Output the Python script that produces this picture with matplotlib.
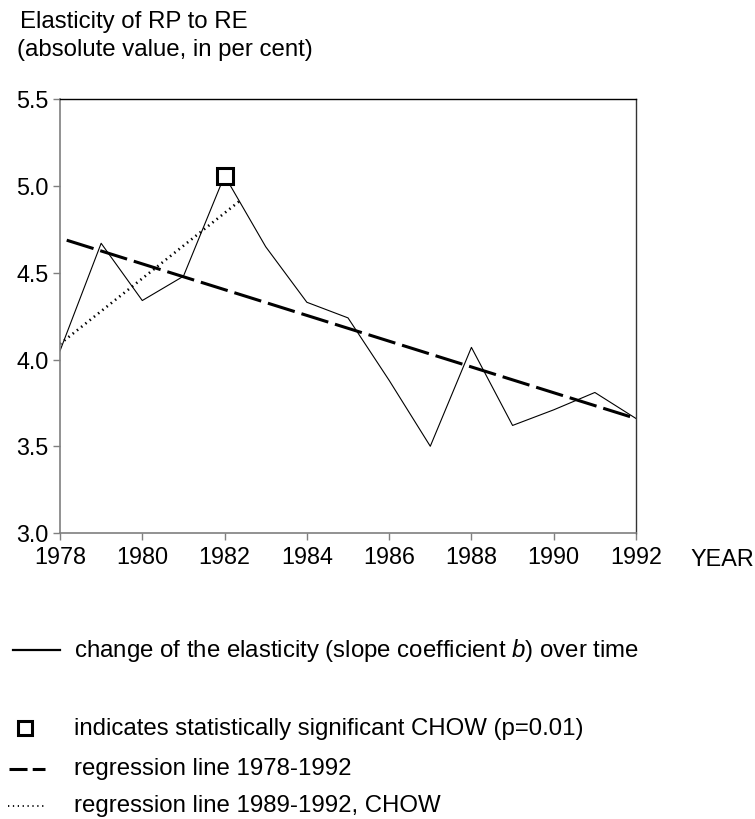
import matplotlib
matplotlib.use('Agg')
import matplotlib.pyplot as plt
from matplotlib.lines import Line2D

plt.rcParams['font.family'] = ['Liberation Sans', 'DejaVu Sans']
plt.rcParams['mathtext.fontset'] = 'custom'
plt.rcParams['mathtext.rm'] = 'Liberation Sans'
plt.rcParams['mathtext.it'] = 'Liberation Sans:italic'

# data
years = [1978, 1979, 1980, 1981, 1982, 1983, 1984, 1985,
         1986, 1987, 1988, 1989, 1990, 1991, 1992]
elasticity = [4.05, 4.67, 4.34, 4.48, 5.06, 4.65, 4.33, 4.24,
              3.88, 3.50, 4.07, 3.62, 3.71, 3.81, 3.66]
reg_years = [1978, 1992]
reg_values = [4.70, 3.66]
chow_years = [1978, 1982.4]
chow_values = [4.09, 4.92]
sig_years = [1982]
sig_values = [5.06]
xticks = list(range(1978, 1993, 2))
yticks = [3.0, 3.5, 4.0, 4.5, 5.0, 5.5]

W, H = 755, 819
fs = 17.3   # free text
tfs = 16.8  # tick labels
fig = plt.figure(figsize=(W / 100, H / 100), dpi=100)
ax = fig.add_axes([60 / W, 1 - 533 / H, 576 / W, 433.7 / H])

ax.plot(years, elasticity, color='black', lw=0.8)
ax.plot(reg_years, reg_values, color='black', lw=2.2,
        linestyle=(9.2, (9.2, 2.3)))
ax.plot(chow_years, chow_values, color='black', lw=1.9,
        linestyle=(0, (0.55, 1.5)))
ax.plot(sig_years, sig_values, ls='none', marker='s', ms=11,
        mfc='white', mec='black', mew=2.2)

ax.set_xlim(1978, 1992)
ax.set_ylim(3.0, 5.5)
ax.set_xticks(xticks)
ax.set_yticks(yticks)
ax.set_yticklabels(['%.1f' % v for v in yticks])
ax.tick_params(direction='out', length=5.2, width=1, color='#7f7f7f',
               labelsize=tfs, labelcolor='black')
ax.tick_params(axis='y', pad=3)
ax.tick_params(axis='x', pad=4.5)
for side in ['left', 'bottom']:
    ax.spines[side].set_color('#7f7f7f')
    ax.spines[side].set_linewidth(1.2)
ax.spines['top'].set_color('black')
ax.spines['right'].set_color('#333333')
ax.spines['top'].set_linewidth(1.0)
ax.spines['right'].set_linewidth(1.0)


def px(x, y):
    return x / W, 1 - y / H


# headings
fig.text(*px(20.5, 28.3), 'Elasticity of RP to RE', fontsize=fs, va='baseline')
fig.text(*px(17, 56), '(absolute value, in per cent)', fontsize=fs,
         va='baseline')
fig.text(*px(690, 566), 'YEAR', fontsize=tfs, va='baseline')

# legend block under the plot
x0, y0 = px(12.7, 650)
x1, _ = px(60, 650)
fig.add_artist(Line2D([x0, x1], [y0, y0], color='black', lw=1.6))
fig.text(*px(74, 657), 'change of the elasticity (slope coefficient $b$) over time',
         fontsize=fs, va='baseline')

mx, my = px(25, 728)
fig.add_artist(Line2D([mx], [my], ls='none', marker='s', ms=10,
                      mfc='white', mec='black', mew=2.2))
fig.text(*px(74, 735), 'indicates statistically significant CHOW (p=0.01)',
         fontsize=fs, va='baseline')

dx0, dy = px(9, 769)
dx1, _ = px(45, 769)
fig.add_artist(Line2D([dx0, dx1], [dy, dy], color='black', lw=2.2,
                      linestyle=(0, (5.9, 1.7))))
fig.text(*px(74, 775), 'regression line 1978-1992', fontsize=fs, va='baseline')

tx0, ty = px(8, 806)
tx1, _ = px(47, 806)
fig.add_artist(Line2D([tx0, tx1], [ty, ty], color='black', lw=1.3,
                      linestyle=(0, (0.7, 2.0))))
fig.text(*px(74, 812), 'regression line 1989-1992, CHOW', fontsize=fs,
         va='baseline')

fig.savefig('out.png', dpi=100)
